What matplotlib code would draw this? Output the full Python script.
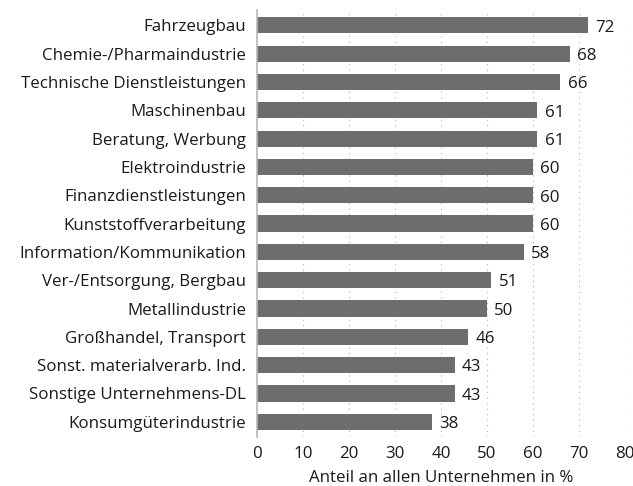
import matplotlib.pyplot as plt

branchen = ['Fahrzeugbau', 'Chemie-/Pharmaindustrie', 'Technische Dienstleistungen',
            'Maschinenbau', 'Beratung, Werbung', 'Elektroindustrie',
            'Finanzdienstleistungen', 'Kunststoffverarbeitung', 'Information/Kommunikation',
            'Ver-/Entsorgung, Bergbau', 'Metallindustrie', 'Großhandel, Transport',
            'Sonst. materialverarb. Ind.', 'Sonstige Unternehmens-DL', 'Konsumgüterindustrie']
anteil = [72, 68, 66, 61, 61, 60, 60, 60, 58, 51, 50, 46, 43, 43, 38]

plt.rcParams['font.family'] = ['Open Sans', 'DejaVu Sans']
fs = 12.2

fig = plt.figure(figsize=(6.33, 4.86), dpi=100)
ax = fig.add_axes([0.406, 0.10, 0.581, 0.88])

pos = list(range(len(branchen)))
ax.barh(pos, anteil, height=0.57, color='#6d6d6d', zorder=2)

# werte rechts neben den balken
for y, v in zip(pos, anteil):
    ax.text(v + 1.6, y + 0.08, str(v), va='center', ha='left', fontsize=fs, color='#1a1a1a')

ax.set_yticks(pos)
ax.set_yticklabels(branchen, fontsize=fs, color='#1a1a1a')
ax.invert_yaxis()
ax.set_ylim(len(branchen) - 0.45, -0.55)

ax.set_xlim(0, 80)
ax.set_xticks(range(0, 81, 10))
ax.tick_params(axis='x', labelsize=fs, length=0, pad=6, colors='#1a1a1a')
ax.tick_params(axis='y', length=0, pad=8)
ax.set_xlabel('Anteil an allen Unternehmen in %', fontsize=fs, color='#1a1a1a', labelpad=6)

ax.grid(axis='x', linestyle=(0, (1, 4)), color='#b0b0b0', linewidth=0.8, zorder=0)
for s in ['top', 'right', 'bottom']:
    ax.spines[s].set_visible(False)
ax.spines['left'].set_color('#b8b8b8')
ax.spines['left'].set_linewidth(1.2)

plt.savefig('out.png', dpi=100)
